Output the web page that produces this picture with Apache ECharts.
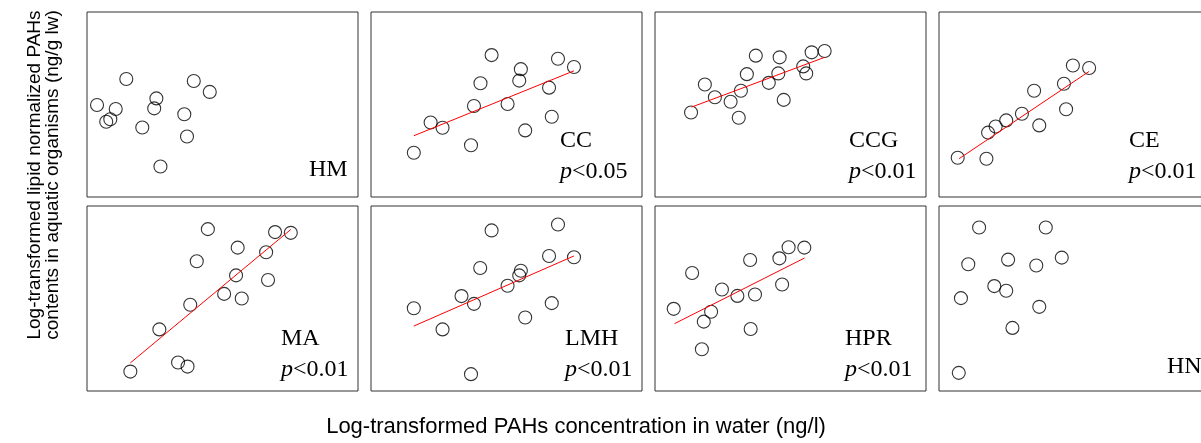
<!DOCTYPE html>
<html>
<head>
<meta charset="utf-8">
<script src="https://cdn.jsdelivr.net/npm/echarts@6/dist/echarts.min.js"></script>
<style>html,body{margin:0;padding:0;background:#fff;width:1201px;height:443px;overflow:hidden}#c{width:1220px;height:443px}</style>
</head>
<body>
<div id="c"></div>
<script>
// Panel names and significance labels
const panelNames = ['HM', 'CC', 'CCG', 'CE', 'MA', 'LMH', 'HPR', 'HN'];
const pLabels = ['', '<0.05', '<0.01', '<0.01', '<0.01', '<0.01', '<0.01', ''];

// Scatter points [x, y] (relative units, 0-100 of each panel's range)
const hmPts = [[3.7,49.7],[7.1,40.7],[8.6,42.0],[10.6,47.6],[14.5,63.8],[20.4,37.6],[24.8,47.9],[25.6,53.3],[27.1,16.5],[35.9,44.7],[36.9,32.7],[39.4,62.7],[45.3,56.8]];
const ccPts = [[15.8,23.9],[22.0,40.3],[26.4,37.4],[36.9,28.0],[38.0,49.2],[40.4,61.5],[44.5,76.7],[50.4,50.3],[54.7,62.9],[55.3,69.1],[56.9,36.0],[65.7,59.1],[66.7,43.4],[69.0,74.7],[74.9,70.3]];
const ccgPts = [[13.3,45.7],[18.4,60.8],[22.1,53.9],[27.9,51.5],[30.9,42.8],[31.7,57.4],[33.9,66.4],[37.2,76.4],[42.0,61.7],[45.5,66.8],[46.0,75.5],[47.5,52.5],[54.7,70.6],[55.8,66.8],[57.8,78.2],[62.6,78.9]];
const cePts = [[6.9,21.2],[17.5,20.7],[18.1,34.8],[20.9,38.1],[24.8,41.4],[30.6,45.0],[35.1,57.4],[37.0,38.7],[46.1,61.2],[46.9,47.4],[49.4,71.1],[55.4,69.7]];
const maPts = [[16.0,10.5],[26.7,33.3],[33.6,15.4],[37.1,13.2],[38.1,46.6],[40.5,70.1],[44.6,87.5],[50.6,52.5],[55.0,62.5],[55.6,77.5],[57.1,50.0],[66.1,75.0],[66.8,60.0],[69.4,85.9],[75.2,85.5]];
const lmhPts = [[15.8,44.7],[26.4,33.3],[33.4,51.3],[36.9,9.1],[38.0,47.1],[40.3,66.5],[44.5,86.8],[50.4,56.9],[54.7,62.5],[55.3,65.0],[56.9,39.7],[65.7,73.0],[66.7,47.5],[69.0,90.0],[74.9,72.3]];
const hprPts = [[6.9,44.4],[13.7,63.8],[17.3,22.6],[18.0,37.5],[20.7,42.8],[24.7,54.9],[30.4,51.4],[35.1,70.8],[35.3,33.5],[36.9,52.2],[45.9,71.7],[46.9,57.6],[49.3,77.7],[55.1,77.5]];
const hnPts = [[7.3,9.8],[8.1,50.2],[10.8,68.5],[14.8,88.4],[20.4,56.7],[24.8,54.2],[25.5,71.0],[27.1,34.1],[35.9,67.8],[37.0,45.5],[39.4,88.4],[45.3,72.1]];

// Regression line end points [x, y] (null = no significant regression)
const hmFit = null;
const ccFit = [[15.8,33.1],[74.9,68.2]];
const ccgFit = [[13.5,48.6],[62.6,75.5]];
const ceFit = [[7.4,20.7],[55.4,67.9]];
const maFit = [[16.0,15.2],[75.2,87.3]];
const lmhFit = [[15.8,35.1],[74.9,73.0]];
const hprFit = [[7.2,36.4],[55.2,71.9]];
const hnFit = null;

const allPts = [hmPts, ccPts, ccgPts, cePts, maPts, lmhPts, hprPts, hnPts];
const allFits = [hmFit, ccFit, ccgFit, ceFit, maFit, lmhFit, hprFit, hnFit];

// Layout
const colLeft = [87, 371, 655, 939];
const rowTop = [12, 206];
const gw = 271, gh = 185;
const labOffset = [222, 189, 194, 190, 194, 194, 190, 228];

const grids = [], xAxes = [], yAxes = [], series = [], titles = [];
for (let i = 0; i < 8; i++) {
  const c = i % 4, r = Math.floor(i / 4);
  grids.push({ left: colLeft[c], top: rowTop[r], width: gw, height: gh, show: true,
    borderColor: '#333', borderWidth: 1, backgroundColor: 'transparent', containLabel: false });
  xAxes.push({ gridIndex: i, type: 'value', min: 0, max: 100, show: false });
  yAxes.push({ gridIndex: i, type: 'value', min: 0, max: 100, show: false });
  if (allFits[i]) {
    series.push({ type: 'line', xAxisIndex: i, yAxisIndex: i, data: allFits[i], symbol: 'none',
      lineStyle: { color: '#ff0000', width: 1 }, silent: true, z: 3 });
  }
  series.push({ type: 'scatter', xAxisIndex: i, yAxisIndex: i, data: allPts[i], symbol: 'circle',
    symbolSize: 13, itemStyle: { color: 'rgba(255,255,255,0)', borderColor: '#000', borderWidth: 1.1 },
    silent: true, z: 2 });
  const hasP = pLabels[i] !== '';
  const labLeft = colLeft[c] + labOffset[i];
  const nameTop = r === 0 ? (hasP ? 129 : 158) : (hasP ? 327 : 355);
  titles.push({ text: panelNames[i], left: labLeft, top: nameTop, padding: 0,
    textStyle: { fontFamily: 'Liberation Serif', fontSize: 24, fontWeight: 'normal', color: '#000', lineHeight: 24 } });
  if (hasP) {
    titles.push({ text: '{i|p}{n|' + pLabels[i] + '}', left: labLeft, top: nameTop + 31, padding: 0,
      textStyle: { fontWeight: 'normal', rich: {
        i: { fontFamily: 'Liberation Serif', fontStyle: 'italic', fontWeight: 'normal', fontSize: 24, color: '#000', lineHeight: 24 },
        n: { fontFamily: 'Liberation Serif', fontWeight: 'normal', fontSize: 24, color: '#000', lineHeight: 24 } } } });
  }
}

const chart = echarts.init(document.getElementById('c'), null, { renderer: 'canvas' });
chart.setOption({
  animation: false,
  backgroundColor: '#fff',
  title: titles,
  grid: grids,
  xAxis: xAxes,
  yAxis: yAxes,
  series: series,
  graphic: [
    { type: 'text', x: 44, y: 175, rotation: Math.PI / 2,
      style: { text: 'Log-transformed lipid normalized PAHs\ncontents in aquatic organisms (ng/g lw)',
        font: '19px "Liberation Sans"', fill: '#000', align: 'center', verticalAlign: 'middle', lineHeight: 18 } },
    { type: 'text', x: 576, y: 427,
      style: { text: 'Log-transformed PAHs concentration in water (ng/l)',
        font: '22px "Liberation Sans"', fill: '#000', align: 'center', verticalAlign: 'middle' } }
  ]
});
</script>
</body>
</html>
